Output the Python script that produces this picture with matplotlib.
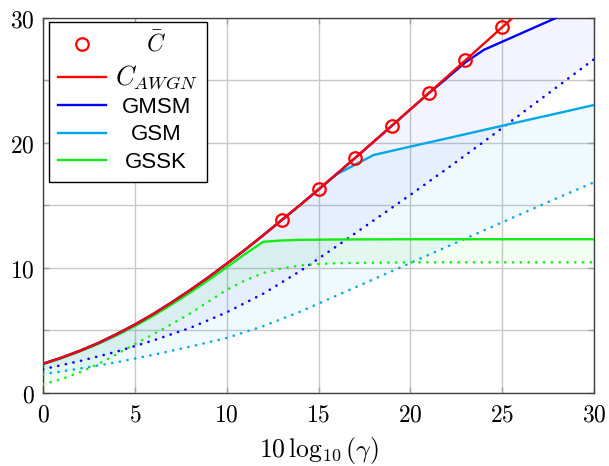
import matplotlib
matplotlib.use('Agg')
import matplotlib.pyplot as plt
from matplotlib.ticker import FuncFormatter, MultipleLocator

plt.rcParams['mathtext.fontset'] = 'cm'

# C_AWGN curve
snr_awgn = list(range(0, 27))
c_awgn = [2.34, 2.82, 3.37, 3.99, 4.70, 5.47, 6.32, 7.24, 8.22, 9.25, 10.34,
          11.46, 12.63, 13.84, 15.04, 16.28, 17.54, 18.81, 20.10, 21.39, 22.69,
          23.99, 25.30, 26.62, 27.94, 29.26, 30.58]

# C bar markers
snr_bar = [13, 15, 17, 19, 21, 23, 25]
c_bar = [13.84, 16.28, 18.81, 21.39, 23.99, 26.62, 29.26]

# GMSM
snr_gmsm = [0, 1, 2, 3, 4, 5, 6, 7, 8, 9, 10, 11, 12, 13, 14, 15, 16, 17, 18,
            19, 20, 21, 22, 23, 24, 26, 28, 30]
c_gmsm = [2.34, 2.82, 3.37, 3.99, 4.70, 5.47, 6.32, 7.24, 8.22, 9.25, 10.34,
          11.46, 12.63, 13.84, 15.04, 16.28, 17.54, 18.81, 20.10, 21.39, 22.69,
          23.97, 25.2, 26.45, 27.45, 28.75, 30.05, 31.35]
snr_gmsm_lo = [0, 2, 4, 6, 8, 10, 12, 14, 16, 18, 20, 22, 24, 26, 28, 30]
c_gmsm_lo = [1.9, 2.55, 3.3, 4.2, 5.2, 6.45, 7.95, 9.75, 11.75, 13.8, 15.85,
             17.95, 20.1, 22.3, 24.5, 26.7]

# GSM
snr_gsm = [0, 1, 2, 3, 4, 5, 6, 7, 8, 9, 10, 11, 12, 13, 14, 15, 16, 17, 18,
           20, 22, 24, 26, 28, 30]
c_gsm = [2.34, 2.82, 3.37, 3.99, 4.70, 5.47, 6.32, 7.24, 8.22, 9.25, 10.34,
         11.46, 12.63, 13.84, 15.04, 16.28, 17.5, 18.27, 19.04, 19.71, 20.37,
         21.04, 21.71, 22.37, 23.04]
snr_gsm_lo = [0, 2, 4, 6, 8, 10, 12, 14, 16, 18, 20, 22, 24, 26, 28, 30]
c_gsm_lo = [1.5, 1.95, 2.45, 3.05, 3.7, 4.4, 5.35, 6.5, 7.8, 9.1, 10.4, 11.7,
            13.0, 14.3, 15.6, 16.85]

# GSSK
snr_gssk = [0, 1, 2, 3, 4, 5, 6, 7, 8, 9, 10, 11, 12, 13, 14, 16, 20, 25, 30]
c_gssk = [2.3, 2.78, 3.32, 3.92, 4.6, 5.35, 6.17, 7.07, 8.02, 9.02, 10.05,
          11.12, 12.1, 12.2, 12.25, 12.28, 12.3, 12.3, 12.3]
snr_gssk_lo = [0, 1, 2, 3, 4, 5, 6, 7, 8, 9, 10, 11, 12, 13, 14, 15, 16, 18,
               20, 25, 30]
c_gssk_lo = [0.7, 1.1, 1.65, 2.3, 3.1, 3.9, 4.7, 5.5, 6.35, 7.3, 8.25, 9.0,
             9.6, 9.97, 10.2, 10.32, 10.38, 10.42, 10.45, 10.45, 10.45]

col_red = '#ff0000'
col_blue = '#0000ff'
col_cyan = '#00a8e8'
col_green = '#11ee11'
dots = (0, (0.05, 2.9))

fig = plt.figure(figsize=(6.09, 4.66), dpi=100)
ax = fig.add_axes([0.0706, 0.1567, 0.9048, 0.8047])

# shaded regions between upper and lower curves
ax.fill_between(snr_gmsm_lo, [c_gmsm[snr_gmsm.index(s)] for s in snr_gmsm_lo],
                c_gmsm_lo, color=col_blue, alpha=0.045, lw=0, zorder=1)
ax.fill_between(snr_gsm_lo, [c_gsm[snr_gsm.index(s)] for s in snr_gsm_lo],
                c_gsm_lo, color=col_cyan, alpha=0.06, lw=0, zorder=1)
ax.fill_between(snr_gssk_lo, [c_gssk[snr_gssk.index(s)] if s in snr_gssk else 12.3 for s in snr_gssk_lo],
                c_gssk_lo, color=col_green, alpha=0.06, lw=0, zorder=1)

for xs, ys, c in [(snr_gmsm_lo, c_gmsm_lo, col_blue),
                  (snr_gsm_lo, c_gsm_lo, col_cyan),
                  (snr_gssk_lo, c_gssk_lo, col_green)]:
    ax.plot(xs, ys, color=c, lw=1.9, ls=dots, dash_capstyle='round', zorder=3)

ax.plot(snr_gssk, c_gssk, color=col_green, lw=1.7, zorder=4, label='GSSK')
ax.plot(snr_gsm, c_gsm, color=col_cyan, lw=1.7, zorder=5, label='GSM')
ax.plot(snr_gmsm, c_gmsm, color=col_blue, lw=1.7, zorder=6, label='GMSM')
ax.plot(snr_awgn, c_awgn, color=col_red, lw=1.7, zorder=7, label=r'$C_{AWGN}$')
ax.plot(snr_bar, c_bar, ls='none', marker='o', ms=9, mfc='none', mec=col_red,
        mew=1.6, zorder=8, label=r'$\bar{C}$')

ax.set_xlim(0, 30)
ax.set_ylim(0, 30)
ax.xaxis.set_major_locator(MultipleLocator(5))
ax.yaxis.set_major_locator(MultipleLocator(10))
ax.yaxis.set_minor_locator(MultipleLocator(5))
fmt = FuncFormatter(lambda v, p: r'$%d$' % v)
ax.xaxis.set_major_formatter(fmt)
ax.yaxis.set_major_formatter(fmt)
ax.grid(True, which='both', color='#c8c8c8', lw=1.0, zorder=0)
ax.set_axisbelow(True)
ax.tick_params(which='both', direction='in', length=4, width=1, color='#a0a0a0',
               top=True, right=True, labelsize=17)
ax.tick_params(axis='x', pad=7)
ax.tick_params(axis='y', pad=6)
for sp in ax.spines.values():
    sp.set_color('#404040')
    sp.set_linewidth(1.0)
ax.set_xlabel(r'$10\,\log_{10}(\gamma)$', fontsize=18.5, labelpad=6)

h, l = ax.get_legend_handles_labels()
order = [4, 3, 2, 1, 0]
leg = ax.legend([h[i] for i in order], [l[i] for i in order], loc='upper left',
                bbox_to_anchor=(0.011, 0.99), fancybox=False, framealpha=1,
                edgecolor='black', prop={'family': 'Liberation Sans', 'size': 16},
                handlelength=2.15, handletextpad=0.38, labelspacing=0.28,
                borderpad=0.42, borderaxespad=0)
leg.get_frame().set_linewidth(1.0)
leg.set_zorder(10)
leg.get_texts()[0].set_fontsize(17)
leg.get_texts()[1].set_fontsize(19)

# center legend texts in their column
fig.canvas.draw()
txts = leg.get_texts()
widths = [t.get_window_extent().width for t in txts]
wmax = max(widths)
for t, w in zip(txts, widths):
    t.set_x((wmax - w) / 2)

fig.savefig('out.png', dpi=100)
